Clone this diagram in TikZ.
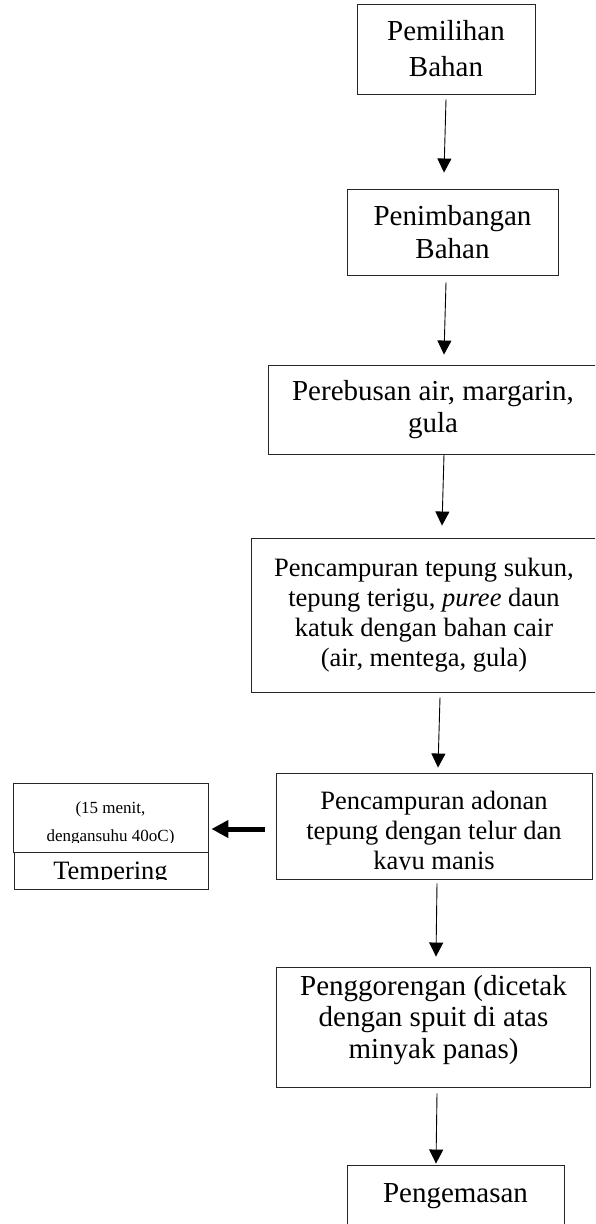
\documentclass[tikz,border=0pt]{standalone}
\usepackage{fontspec}
\setmainfont{Liberation Serif}
\usetikzlibrary{arrows.meta,calc}
\newcommand{\bigstep}{\fontsize{29}{32}\selectfont}
\newcommand{\smallstep}{\fontsize{26.5}{30}\selectfont}
\newcommand{\notestep}{\fontsize{17}{28}\selectfont}
\tikzset{
  processbox/.style={
    draw=black!85,
    line width=0.9pt,
    align=center,
    inner sep=0pt,
    font=\bigstep
  },
  steptext/.style={align=center,inner sep=0pt},
  flowarrow/.style={-{Triangle[length=14pt,width=14pt]},line width=0.9pt,draw=black},
  sidearrow/.style={-{Triangle[length=17pt,width=17pt]},line width=5pt,draw=black}
}

\begin{document}
\begin{tikzpicture}[x=1pt,y=-1pt]
  \useasboundingbox (0,0) rectangle (595,1224);
  \clip (0,0) rectangle (595,1224);
  % main flow
  \node[processbox,minimum width=178pt,minimum height=90pt,font=\fontsize{29}{36}\selectfont] (pemilihan) at (446,49) {Pemilihan\\Bahan};
  \node[processbox,minimum width=211pt,minimum height=86pt,font=\fontsize{29}{33}\selectfont] (penimbangan) at (452.5,232) {Penimbangan\\Bahan};
  \node[processbox,minimum width=330pt,minimum height=89pt] (perebusan) at (433,409.5) {Perebusan air, margarin,\\gula};
  \node[processbox,minimum width=346pt,minimum height=154pt,font=\smallstep] (pencampuran) at (424,615) {Pencampuran tepung sukun,\\tepung terigu, \textit{puree} daun\\katuk dengan bahan cair\\(air, mentega, gula)};
  \node[processbox,minimum width=316pt,minimum height=106pt] (adonan) at (434,826) {};
  \begin{scope}
    \clip (adonan.north west) rectangle (adonan.east |- 0,869.5);
    \node[steptext,font=\smallstep] (adonantext) at (434,832.9) {Pencampuran adonan\\tepung dengan telur dan\\kayu manis};
  \end{scope}
  \node[processbox,minimum width=314pt,minimum height=120pt] (penggorengan) at (433,1027) {};
  \node[steptext,font=\fontsize{29}{31.5}\selectfont] (penggorengantext) at (433.5,1019.7) {Penggorengan (dicetak\\dengan spuit di atas\\minyak panas)};
  \node[processbox,minimum width=217pt,minimum height=62pt] (pengemasan) at (455.5,1196) {Pengemasan};
  % tempering side boxes
  \node[processbox,minimum width=195pt,minimum height=69pt] (suhu) at (110.5,817.5) {};
  \begin{scope}
    \clip (suhu.north west) rectangle (suhu.east |- 0,842);
    \node[steptext,font=\notestep] (suhutext) at (110.5,823.1) {(15 menit,\\dengansuhu 40oC)};
  \end{scope}
  \node[processbox,minimum width=194pt,minimum height=37pt] (tempering) at (111,870.5) {};
  \begin{scope}
    \clip (tempering.north west) rectangle (tempering.east |- 0,879.5);
    \node[steptext,font=\smallstep,anchor=base] (temperingtext) at (110.5,879) {Tempering};
  \end{scope}
  % connectors
  \draw[flowarrow] ($(pemilihan.south)+(0,5)$) -- ($(penimbangan.north)+(-8.5,-16)$);
  \draw[flowarrow] ($(penimbangan.south)+(-6.5,7)$) -- ($(perebusan.north)+(11,-10)$);
  \draw[flowarrow] ($(perebusan.south)+(11,0)$) -- ($(pencampuran.north)+(18,-12)$);
  \draw[flowarrow] ($(pencampuran.south)+(16,5)$) -- ($(adonan.north)+(4,-5)$);
  \draw[flowarrow] ($(adonan.south)+(3,4)$) -- ($(penggorengan.north)+(3,-10)$);
  \draw[flowarrow] ($(penggorengan.south)+(4,6)$) -- ($(pengemasan.north)+(-19.5,-1)$);
  \draw[sidearrow] ($(adonan.west)+(-11,3)$) -- ($(suhu.east |- adonan.west)+(3,3)$);
\end{tikzpicture}
\end{document}
